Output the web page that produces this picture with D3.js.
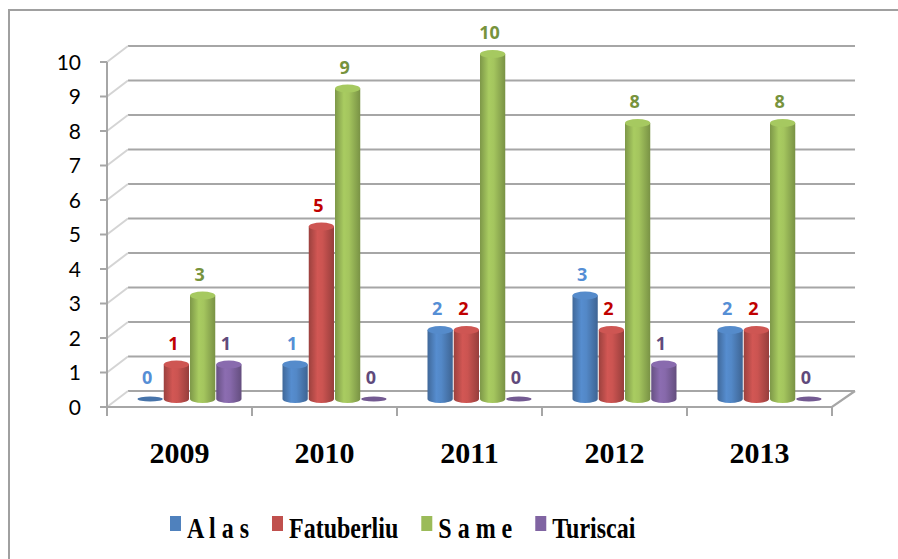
<!DOCTYPE html>
<html>
<head>
<meta charset="utf-8">
<script src="https://cdn.jsdelivr.net/npm/d3@7"></script>
<style>
  body { margin: 0; background: #fff; }
  svg { display: block; }
</style>
</head>
<body>
<svg width="898" height="559"></svg>
<script>
var years = ["2009", "2010", "2011", "2012", "2013"];
var names = ["A l a s", "Fatuberliu", "S a m e", "Turiscai"];
var alas = [0, 1, 2, 3, 2];
var fatuberliu = [1, 5, 2, 2, 2];
var same = [3, 9, 10, 8, 8];
var turiscai = [1, 0, 0, 1, 0];
var yTicks = [0, 1, 2, 3, 4, 5, 6, 7, 8, 9, 10];

var barColors = ["#4f81bd", "#c0504d", "#9bbb59", "#8064a2"];
var labelColors = ["#558ed5", "#c00000", "#77933c", "#604a7b"];

var series = [alas, fatuberliu, same, turiscai];

var svg = d3.select("svg");

// depth offsets for the fake 3d box
var backDx = 21, backDy = -16;
var midDx = 10.5, midDy = -8;

var x = d3.scaleBand().domain(years).range([107, 832]);
var xs = d3.scaleBand().domain(names).range([20, 125]);
var y = d3.scaleLinear().domain([0, 10]).range([407, 62]);

var grid = "#a6a6a6";

// chart border (top + left only visible)
svg.append("path")
  .attr("d", "M9,559 L9,10 L898,10")
  .attr("fill", "none")
  .attr("stroke", "#a0a0a0")
  .attr("stroke-width", 2);

// gridlines on back wall + side wall diagonals
var g = svg.append("g");
yTicks.forEach(function(t) {
  g.append("line")
    .attr("x1", x.range()[0] + backDx).attr("x2", x.range()[1] + backDx + 2)
    .attr("y1", y(t) + backDy).attr("y2", y(t) + backDy)
    .attr("stroke", grid).attr("stroke-width", 2.2);
  g.append("line")
    .attr("x1", x.range()[0]).attr("x2", x.range()[0] + backDx)
    .attr("y1", y(t)).attr("y2", y(t) + backDy)
    .attr("stroke", "#d4d4d4").attr("stroke-width", 2);
  // tick mark
  g.append("line")
    .attr("x1", 100).attr("x2", 107)
    .attr("y1", y(t)).attr("y2", y(t))
    .attr("stroke", grid).attr("stroke-width", 2);
});

// floor
svg.append("path")
  .attr("d", "M" + x.range()[0] + "," + y(0) + " L" + x.range()[1] + "," + y(0) +
        " L" + (x.range()[1] + backDx + 2) + "," + (y(0) + backDy))
  .attr("fill", "none").attr("stroke", grid).attr("stroke-width", 2.2);

// vertical axis
svg.append("line")
  .attr("x1", 107).attr("x2", 107).attr("y1", y(10)).attr("y2", y(0) + 1)
  .attr("stroke", grid).attr("stroke-width", 2);

// category ticks
x.domain().concat(["end"]).forEach(function(d, i) {
  var px = x.range()[0] + i * x.bandwidth();
  svg.append("line")
    .attr("x1", px).attr("x2", px).attr("y1", y(0)).attr("y2", y(0) + 9)
    .attr("stroke", grid).attr("stroke-width", 2);
});

// y tick labels
svg.append("g").selectAll("text")
  .data(yTicks).enter().append("text")
  .attr("x", 81).attr("y", function(d) { return y(d); })
  .attr("dy", "0.36em")
  .attr("text-anchor", "end")
  .style("font-family", "Lato, 'Open Sans', sans-serif")
  .style("font-size", "21px")
  .attr("fill", "#000")
  .text(function(d) { return d; });

// category labels
svg.append("g").selectAll("text")
  .data(years).enter().append("text")
  .attr("x", function(d) { return x(d) + x.bandwidth() / 2; })
  .attr("y", 463)
  .attr("text-anchor", "middle")
  .style("font-family", "'Liberation Serif', 'Times New Roman', serif")
  .style("font-weight", "bold")
  .style("font-size", "30px")
  .text(function(d) { return d; });

// cylinder gradients
var defs = svg.append("defs");
barColors.forEach(function(c, i) {
  var base = d3.color(c);
  var gr = defs.append("linearGradient").attr("id", "cyl" + i)
    .attr("x1", "0%").attr("x2", "100%").attr("y1", "0%").attr("y2", "0%");
  gr.append("stop").attr("offset", "0%").attr("stop-color", base.darker(0.6));
  gr.append("stop").attr("offset", "35%").attr("stop-color", base.brighter(0.25));
  gr.append("stop").attr("offset", "55%").attr("stop-color", base.brighter(0.15));
  gr.append("stop").attr("offset", "100%").attr("stop-color", base.darker(0.7));
});

// bars
var bw = xs.bandwidth() - 1;
var ry = 4;
var bars = svg.append("g");
years.forEach(function(yr, j) {
  names.forEach(function(nm, i) {
    var v = series[i][j];
    var x0 = x(yr) + xs(nm) + midDx;
    var cx = x0 + bw / 2;
    var yb = y(0) + midDy;
    var yt = y(v) + midDy;
    if (v === 0) {
      bars.append("ellipse")
        .attr("cx", cx).attr("cy", yb)
        .attr("rx", bw / 2).attr("ry", 2.5)
        .attr("fill", d3.color(barColors[i]).darker(0.3));
    } else {
      bars.append("path")
        .attr("d", "M" + x0 + "," + yt +
          " L" + x0 + "," + yb +
          " A" + (bw / 2) + "," + ry + " 0 0 0 " + (x0 + bw) + "," + yb +
          " L" + (x0 + bw) + "," + yt + " Z")
        .attr("fill", "url(#cyl" + i + ")");
      bars.append("ellipse")
        .attr("cx", cx).attr("cy", yt)
        .attr("rx", bw / 2).attr("ry", ry)
        .attr("fill", d3.color(barColors[i]).brighter(0.2));
    }
    bars.append("text")
      .attr("x", cx - 3).attr("y", yt - 15)
      .attr("text-anchor", "middle")
      .style("font-family", "'Open Sans', Lato, sans-serif")
      .style("font-weight", "bold")
      .style("font-size", "18px")
      .attr("fill", labelColors[i])
      .text(v);
  });
});

// legend
var legend = svg.append("g");
var lx = 170;
var sx = 0.8;
names.forEach(function(nm, i) {
  legend.append("rect")
    .attr("x", lx).attr("y", 516).attr("width", 11).attr("height", 15)
    .attr("fill", barColors[i]);
  var t = legend.append("text")
    .attr("transform", "translate(" + (lx + 17) + ",538) scale(" + sx + ",1)")
    .style("font-family", "'Liberation Serif', 'Times New Roman', serif")
    .style("font-weight", "bold")
    .style("font-size", "30px")
    .text(nm);
  var w = t.node().getComputedTextLength() * sx;
  lx = lx + 17 + w + 23;
});
</script>
</body>
</html>
